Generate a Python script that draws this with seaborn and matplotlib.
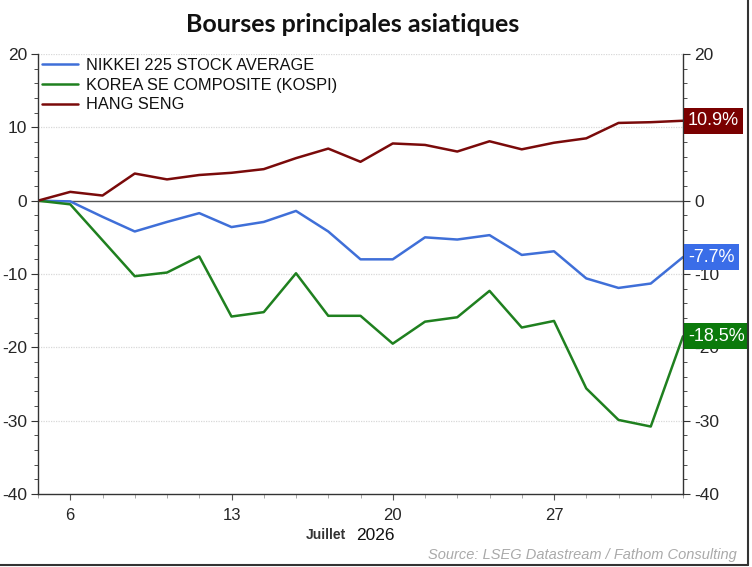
import matplotlib
matplotlib.use("Agg")
import matplotlib.pyplot as plt
import matplotlib.transforms as mtransforms
from matplotlib.lines import Line2D
from matplotlib.ticker import FixedLocator
import seaborn as sns
import pandas as pd

# ---- data ----
days = [3, 6, 7, 8, 9, 10, 13, 14, 15, 16, 17, 20, 21, 22, 23, 24, 27, 28, 29, 30, 31]
nikkei = [0, -0.1, -2.2, -4.2, -2.9, -1.7, -3.6, -2.9, -1.4, -4.2, -8.0, -8.0,
          -5.0, -5.3, -4.7, -7.4, -6.9, -10.6, -11.9, -11.3, -7.7]
kospi = [0, -0.5, -5.4, -10.3, -9.8, -7.6, -15.8, -15.2, -9.9, -15.7, -15.7, -19.5,
         -16.5, -15.9, -12.3, -17.3, -16.4, -25.6, -29.9, -30.8, -18.5]
hangseng = [0, 1.2, 0.7, 3.7, 2.9, 3.5, 3.8, 4.3, 5.8, 7.1, 5.3, 7.8,
            7.6, 6.7, 8.1, 7.0, 7.9, 8.5, 10.6, 10.7, 10.9]
series_names = ["NIKKEI 225 STOCK AVERAGE", "KOREA SE COMPOSITE (KOSPI)", "HANG SENG"]
series_values = [nikkei, kospi, hangseng]
colors = ["#3F6FD8", "#1F801F", "#7A0A0A"]
box_colors = ["#3A6DE8", "#0B7A0B", "#7A0000"]
end_labels = ["-7.7%", "-18.5%", "10.9%"]
tick_days = [6, 13, 20, 27]
y_ticks = [-40, -30, -20, -10, 0, 10, 20]
y_minor = list(range(-40, 21, 2))
title = "Bourses principales asiatiques"

# ---- frame ----
rows = []
for name, vals in zip(series_names, series_values):
    for i, (d, v) in enumerate(zip(days, vals)):
        rows.append({"pos": i, "day": d, "value": v, "series": name})
df = pd.DataFrame(rows)

sns.set_style("white")
plt.rcParams["font.family"] = ["Liberation Sans", "DejaVu Sans"]

fig = plt.figure(figsize=(7.52, 5.67), dpi=100)
ax = fig.add_axes([38 / 752, 1 - 494 / 567, (683 - 38) / 752, (494 - 54) / 567])

sns.lineplot(data=df, x="pos", y="value", hue="series", hue_order=series_names,
             palette=dict(zip(series_names, colors)), linewidth=1.8, ax=ax,
             legend=True)

ax.set_xlabel("")
ax.set_ylabel("")

# grid lines
for y in [-30, -20, -10, 10, 20]:
    ax.axhline(y, color="#D8D8D8", lw=0.9, ls=(0, (1, 1)), zorder=0)
ax.axhline(0, color="#555555", lw=1.0, zorder=1)

# spines
ax.spines["top"].set_visible(False)
for s in ["left", "right", "bottom"]:
    ax.spines[s].set_color("#333333")
    ax.spines[s].set_linewidth(1.0)

# x ticks
tick_pos = [days.index(d) for d in tick_days]
ax.xaxis.set_major_locator(FixedLocator(tick_pos))
ax.xaxis.set_minor_locator(FixedLocator(list(range(len(days)))))
ax.set_xticklabels([str(d) for d in tick_days])
ax.tick_params(axis="x", which="major", direction="out", length=4, width=0.8,
               color="#555555", labelsize=12, pad=6, bottom=True)
ax.tick_params(axis="x", which="minor", direction="out", length=3, width=0.6,
               color="#999999", bottom=True)

# y ticks both sides
ax.set_yticks(y_ticks)
ax.set_yticklabels([str(v) for v in y_ticks])
ax.yaxis.set_minor_locator(FixedLocator(y_minor))
ax.tick_params(axis="y", which="major", direction="out", length=5, width=0.8,
               color="#333333", labelsize=12.5, left=True, right=True,
               labelleft=True, labelright=True, pad=3)
ax.tick_params(axis="y", which="minor", direction="out", length=3, width=0.6,
               color="#333333", left=True, right=True)

ax.set_xlim(0, len(days) - 1)
ax.set_ylim(-40, 20)

# legend
leg = ax.legend(loc="upper left", frameon=False, fontsize=11.8, handlelength=2.2,
                handletextpad=0.45, borderaxespad=0.0, labelspacing=0.28,
                borderpad=0.25, bbox_to_anchor=(0.0, 1.0))
for t in leg.get_texts():
    t.set_color("#111111")

# end labels
trans = mtransforms.blended_transform_factory(ax.transAxes, ax.transData)
for vals, bc, lab in zip(series_values, box_colors, end_labels):
    ax.annotate(lab, xy=(1.0, vals[-1]), xycoords=trans, xytext=(3.6, 0),
                textcoords="offset points", ha="left", va="center",
                color="white", fontsize=13, zorder=10, annotation_clip=False,
                bbox=dict(boxstyle="square,pad=0.24", facecolor=bc, edgecolor="none"))

# title
fig.text(353 / 752, 1 - 25 / 567, title, ha="center", va="center", fontsize=18,
         fontweight="bold", family=["Lato", "DejaVu Sans"], color="#111111")

# month/year label
fig.text(346 / 752, 1 - 535 / 567, "Juillet", ha="right", va="center",
         fontsize=10, fontweight="bold", color="#333333")
fig.text(356 / 752, 1 - 535 / 567, "2026", ha="left", va="center",
         fontsize=12.5, color="#111111")

# source
fig.text(737 / 752, 1 - 555 / 567, "Source: LSEG Datastream / Fathom Consulting",
         ha="right", va="center", fontsize=10.5, style="italic", color="#AAAAAA")

# border (right and bottom)
fig.add_artist(Line2D([748 / 752, 748 / 752], [1 - 565 / 567, 1.0],
                      transform=fig.transFigure, color="#333333", lw=1.5))
fig.add_artist(Line2D([0, 748 / 752], [1 - 565 / 567, 1 - 565 / 567],
                      transform=fig.transFigure, color="#333333", lw=1.5))

fig.savefig("out.png", dpi=100, facecolor="white")
